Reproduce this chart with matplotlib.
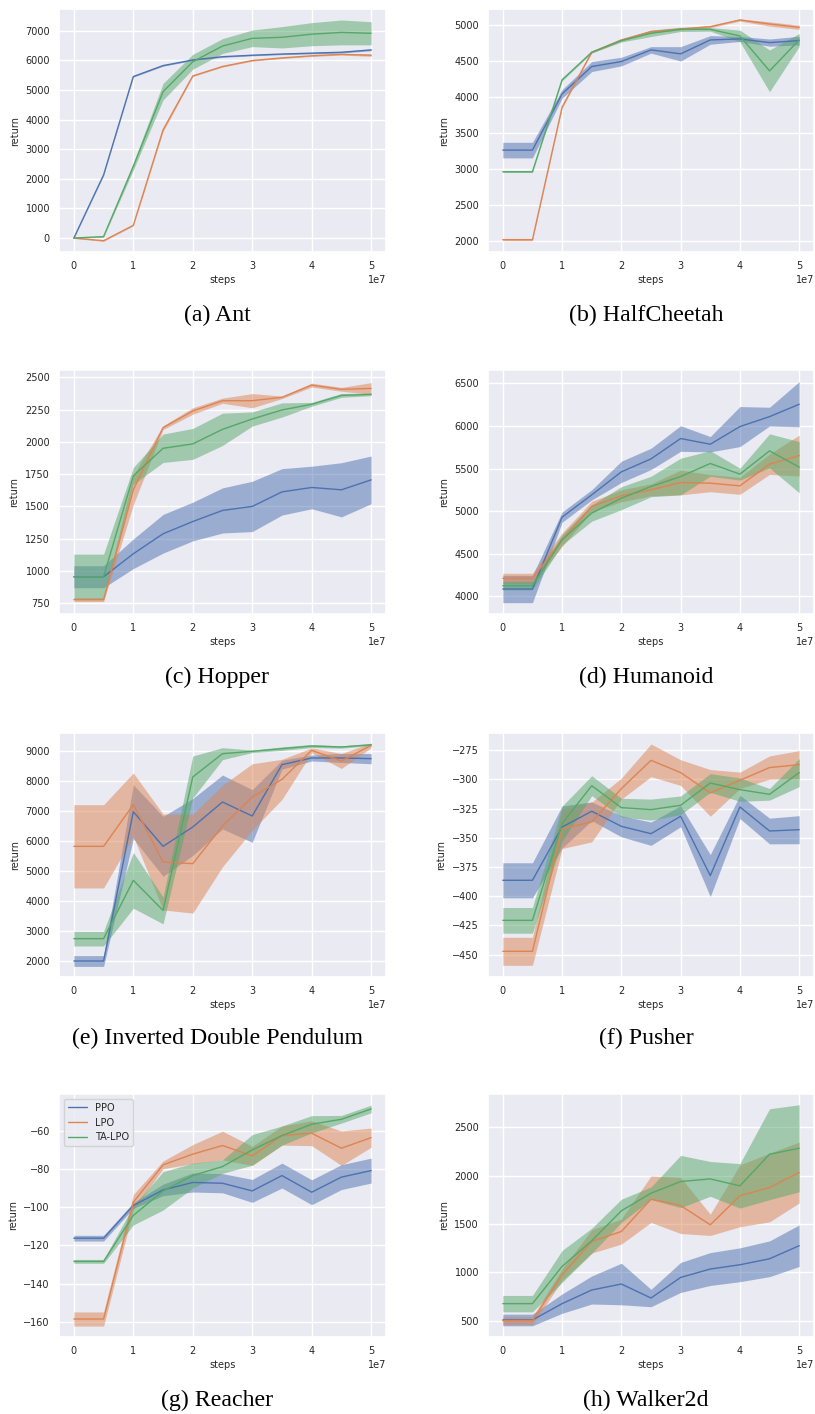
import matplotlib
matplotlib.use("Agg")
import matplotlib.pyplot as plt
import seaborn as sns
import numpy as np
from matplotlib.ticker import MultipleLocator

sns.set_theme(style="darkgrid")
plt.rcParams['font.family'] = ['DejaVu Sans']

steps = [0, 5e6, 1e7, 1.5e7, 2e7, 2.5e7, 3e7, 3.5e7, 4e7, 4.5e7, 5e7]
methods = ["PPO", "LPO", "TA-LPO"]

# (a) Ant
ant_ppo = [0, 2130, 5450, 5820, 6010, 6120, 6170, 6210, 6240, 6270, 6350]
ant_ppo_sd = [10, 20, 20, 20, 20, 20, 20, 20, 25, 25, 30]
ant_lpo = [0, -90, 430, 3650, 5470, 5790, 5990, 6080, 6150, 6200, 6170]
ant_lpo_sd = [10, 20, 20, 60, 20, 20, 20, 20, 20, 25, 40]
ant_talpo = [0, 50, 2420, 4940, 5950, 6480, 6740, 6775, 6880, 6940, 6910]
ant_talpo_sd = [10, 20, 120, 280, 250, 250, 280, 360, 390, 420, 390]

# (b) HalfCheetah
hc_ppo = [3265, 3265, 4045, 4424, 4493, 4655, 4600, 4793, 4807, 4756, 4784]
hc_ppo_sd = [108, 108, 60, 70, 60, 45, 100, 60, 35, 50, 60]
hc_lpo = [2023, 2023, 3860, 4622, 4793, 4908, 4945, 4977, 5070, 5014, 4968]
hc_lpo_sd = [15, 15, 15, 10, 15, 15, 15, 15, 15, 30, 30]
hc_talpo = [2965, 2965, 4240, 4622, 4784, 4885, 4940, 4940, 4848, 4364, 4793]
hc_talpo_sd = [10, 10, 15, 10, 20, 45, 30, 25, 80, 290, 90]

# (c) Hopper
hop_ppo = [954, 954, 1132, 1287, 1382, 1468, 1499, 1612, 1646, 1628, 1705]
hop_ppo_sd = [85, 85, 115, 150, 150, 175, 195, 180, 165, 210, 185]
hop_lpo = [776, 776, 1628, 2110, 2239, 2319, 2319, 2345, 2440, 2407, 2414]
hop_lpo_sd = [15, 15, 115, 15, 25, 20, 55, 10, 15, 15, 45]
hop_talpo = [954, 954, 1736, 1950, 1984, 2097, 2177, 2247, 2291, 2360, 2368]
hop_talpo_sd = [175, 175, 65, 110, 120, 125, 55, 55, 15, 15, 10]

# (d) Humanoid
hum_ppo = [4086, 4086, 4930, 5191, 5461, 5613, 5852, 5785, 5992, 6109, 6254]
hum_ppo_sd = [160, 160, 60, 60, 125, 125, 150, 90, 235, 110, 265]
hum_lpo = [4211, 4211, 4664, 5055, 5180, 5250, 5336, 5328, 5297, 5551, 5652]
hum_lpo_sd = [60, 60, 80, 60, 70, 70, 145, 100, 100, 120, 240]
hum_talpo = [4125, 4125, 4664, 4977, 5152, 5289, 5406, 5559, 5434, 5707, 5516]
hum_talpo_sd = [50, 50, 60, 95, 135, 120, 215, 150, 70, 200, 300]

# (e) Inverted Double Pendulum
idp_ppo = [2000, 2000, 6985, 5828, 6474, 7308, 6841, 8555, 8778, 8778, 8755]
idp_ppo_sd = [180, 180, 900, 1000, 950, 900, 880, 150, 100, 150, 170]
idp_lpo = [5828, 5828, 7219, 5305, 5250, 6507, 7475, 8064, 9033, 8677, 9200]
idp_lpo_sd = [1390, 1390, 1060, 1600, 1650, 1360, 1110, 670, 80, 250, 80]
idp_talpo = [2746, 2746, 4693, 3690, 8143, 8922, 9000, 9089, 9178, 9145, 9222]
idp_talpo_sd = [245, 245, 930, 450, 700, 200, 40, 60, 50, 40, 30]

# (f) Pusher
push_ppo = [-386.3, -386.3, -340.7, -327.2, -340.1, -346.4, -331.5, -382.3, -323.5, -344.1, -343.0]
push_ppo_sd = [15, 15, 18, 8, 9, 10, 9, 18, 10, 11, 12]
push_lpo = [-447.1, -447.1, -342.1, -336.4, -307.8, -283.6, -294.1, -311.5, -300.7, -289.8, -287.3]
push_lpo_sd = [12, 12, 17, 17, 9, 14, 11, 20, 7, 10, 12]
push_talpo = [-420.6, -420.6, -337.8, -305.3, -324.1, -325.8, -322.1, -303.0, -308.7, -312.7, -294.1]
push_talpo_sd = [11, 11, 15, 8.5, 8, 9, 8, 8, 10, 5, 12]

# (g) Reacher
reach_ppo = [-116.2, -116.2, -99.1, -91.0, -87.1, -87.5, -91.5, -83.5, -92.2, -84.3, -80.9]
reach_ppo_sd = [1.5, 1.5, 1.5, 3, 5, 5, 6, 6.5, 6.5, 6.5, 6.5]
reach_lpo = [-158.4, -158.4, -97.4, -77.9, -72.3, -67.8, -73.2, -62.6, -61.4, -69.2, -63.7]
reach_lpo_sd = [3.7, 3.7, 4, 2, 5, 7.5, 5, 5, 6.5, 9, 5]
reach_talpo = [-128.3, -128.3, -104.3, -91.5, -83.5, -78.8, -70.1, -62.6, -56.7, -54.1, -48.7]
reach_talpo_sd = [1, 1, 5, 10, 6.5, 3.5, 8, 5, 4.5, 2, 2]

# (h) Walker2d
walk_ppo = [507, 507, 676, 817, 879, 734, 947, 1034, 1078, 1140, 1275]
walk_ppo_sd = [60, 60, 100, 145, 215, 90, 155, 170, 175, 185, 215]
walk_lpo = [500, 500, 975, 1319, 1422, 1756, 1691, 1491, 1791, 1877, 2032]
walk_lpo_sd = [40, 40, 60, 120, 130, 240, 290, 110, 320, 355, 315]
walk_talpo = [676, 676, 1061, 1326, 1636, 1818, 1939, 1966, 1894, 2221, 2283]
walk_talpo_sd = [85, 85, 165, 130, 120, 65, 270, 180, 230, 470, 450]

captions = ["(a) Ant", "(b) HalfCheetah", "(c) Hopper", "(d) Humanoid",
            "(e) Inverted Double Pendulum", "(f) Pusher", "(g) Reacher", "(h) Walker2d"]

panels = [
    (ant_ppo, ant_ppo_sd, ant_lpo, ant_lpo_sd, ant_talpo, ant_talpo_sd),
    (hc_ppo, hc_ppo_sd, hc_lpo, hc_lpo_sd, hc_talpo, hc_talpo_sd),
    (hop_ppo, hop_ppo_sd, hop_lpo, hop_lpo_sd, hop_talpo, hop_talpo_sd),
    (hum_ppo, hum_ppo_sd, hum_lpo, hum_lpo_sd, hum_talpo, hum_talpo_sd),
    (idp_ppo, idp_ppo_sd, idp_lpo, idp_lpo_sd, idp_talpo, idp_talpo_sd),
    (push_ppo, push_ppo_sd, push_lpo, push_lpo_sd, push_talpo, push_talpo_sd),
    (reach_ppo, reach_ppo_sd, reach_lpo, reach_lpo_sd, reach_talpo, reach_talpo_sd),
    (walk_ppo, walk_ppo_sd, walk_lpo, walk_lpo_sd, walk_talpo, walk_talpo_sd),
]
ylims = [(-470, 7730), (1852, 5222), (665, 2557), (3793, 6656),
         (1466, 9612), (-469.1, -260.2), (-167.8, -40.9), (331, 2844)]
ysteps = [1000, 500, 250, 500, 1000, 25, 20, 500]

colors = sns.color_palette("deep")[:3]

W, H = 815, 1414
fig = plt.figure(figsize=(W / 100, H / 100), dpi=100)

col_x = [(59, 386), (488, 814)]
row_y = [(9, 252), (370, 614), (733, 977), (1094, 1337)]
cap_y = [315, 677, 1038, 1400]
cap_x = [217, 646]

x = np.array(steps)
for i, data in enumerate(panels):
    r, c = divmod(i, 2)
    x0, x1 = col_x[c]
    y0, y1 = row_y[r]
    ax = fig.add_axes([x0 / W, 1 - y1 / H, (x1 - x0) / W, (y1 - y0) / H])
    for k in range(3):
        m = np.array(data[2 * k], dtype=float)
        s = np.array(data[2 * k + 1], dtype=float)
        ax.fill_between(x, m - s, m + s, color=colors[k], alpha=0.5, linewidth=0)
        ax.plot(x, m, color=colors[k], lw=1.0, label=methods[k])
    ax.set_ylim(*ylims[i])
    ax.yaxis.set_major_locator(MultipleLocator(ysteps[i]))
    ax.xaxis.set_major_locator(MultipleLocator(1e7))
    ax.tick_params(labelsize=7, length=0, pad=6.5, colors='#262626')
    ax.set_xlabel("steps", fontsize=7, labelpad=3, color='#262626')
    ax.set_ylabel("return", fontsize=7, labelpad=4, color='#262626')
    ax.xaxis.get_offset_text().set_fontsize(7)
    if i == 6:
        ax.legend(loc="upper left", fontsize=7)
    fig.text(cap_x[c] / W, 1 - cap_y[r] / H, captions[i], ha="center", va="center",
             fontsize=17.2, family="Liberation Serif", color="black")

fig.savefig("out.png", dpi=100)
